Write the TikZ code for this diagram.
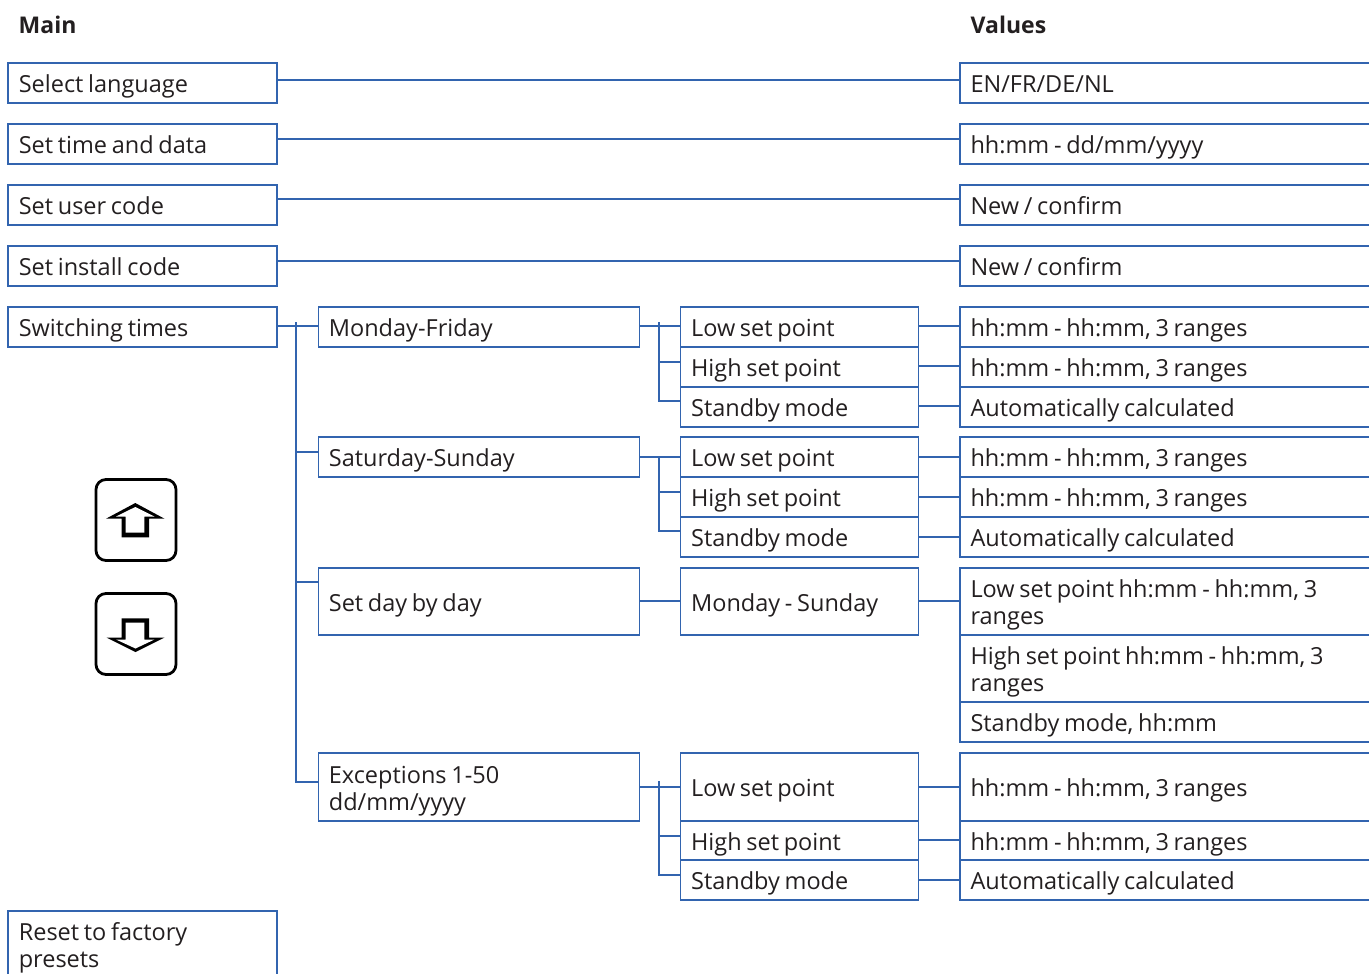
\documentclass[tikz,border=0pt]{standalone}
\usepackage{fontspec}
\setmainfont{Open Sans}
\usepackage{xcolor}
\definecolor{mblue}{RGB}{50,100,175}
\definecolor{mtext}{RGB}{35,31,32}
\newcommand{\boxstart}{\spaceskip=4.7pt\relax\rule{0pt}{24.7pt}}
\tikzset{
  menubox/.style={draw=mblue, line width=1.7pt, rectangle, anchor=north west, outer sep=0pt,
    inner xsep=10.5pt, inner ysep=0pt, align=flush left, text=mtext,
    font=\fontsize{23.5}{27}\selectfont,
    execute at begin node=\boxstart, execute at end node=\rule[-5pt]{0pt}{5pt}},
  mainbox/.style={menubox, text width=248pt, minimum height=#1},
  groupbox/.style={menubox, text width=300pt, minimum height=#1},
  pointbox/.style={menubox, text width=216.8pt, minimum height=#1},
  valuebox/.style={menubox, text width=394pt, minimum height=#1},
  headtext/.style={anchor=west, text=mtext, inner sep=0pt, font=\fontsize{23}{27}\selectfont\bfseries},
  link/.style={draw=mblue, line width=1.7pt},
  keybox/.style={draw=black, line width=2.8pt, rounded corners=10pt, minimum width=80pt, minimum height=81pt, outer sep=0pt, inner sep=0pt}
}
\begin{document}
\begin{tikzpicture}[x=1pt,y=-1pt]
\clip (0,0) rectangle (1369,974);

% Headings
\node[headtext] (mainhead) at (18.5,25) {Main};
\node[headtext] (valhead) at (970.5,25) {Values};

% Main column
\node[mainbox=40pt] (lang) at (8.3,63) {Select language};
\node[mainbox=40pt] (time) at (8.3,124) {Set time and data};
\node[mainbox=40pt] (user) at (8.3,185) {Set user code};
\node[mainbox=40pt] (install) at (8.3,246) {Set install code};
\node[mainbox=40pt] (switch) at (8.3,307) {Switching times};
\node[mainbox=67pt] (reset) at (8.3,911) {Reset to factory\\presets};

% Second column
\node[groupbox=40pt] (monfri) at (318.4,307) {Monday-Friday};
\node[groupbox=40pt] (satsun) at (318.4,437) {Saturday-Sunday};
\node[groupbox=67pt] (daybyday) at (318.4,568) {Set day by day};
\node[groupbox=68pt] (except) at (318.4,753) {Exceptions 1-50\\dd/mm/yyyy};

% Third column
\node[pointbox=40pt] (lowa) at (680.6,307) {Low set point};
\node[pointbox=40pt] (higha) at (680.6,347) {High set point};
\node[pointbox=40pt] (stba) at (680.6,387) {Standby mode};
\node[pointbox=40pt] (lowb) at (680.6,437) {Low set point};
\node[pointbox=40pt] (highb) at (680.6,477) {High set point};
\node[pointbox=40pt] (stbb) at (680.6,517) {Standby mode};
\node[pointbox=67pt] (monsun) at (680.6,568) {Monday - Sunday};
\node[pointbox=68pt] (lowc) at (680.6,753) {Low set point};
\node[pointbox=39pt] (highc) at (680.6,821) {High set point};
\node[pointbox=40pt] (stbc) at (680.6,860) {Standby mode};

% Values column, runs off the right edge
\node[valuebox=40pt] (vlang) at (960,63) {EN/FR/DE/NL};
\node[valuebox=40pt] (vtime) at (960,124) {hh:mm - dd/mm/yyyy};
\node[valuebox=40pt] (vuser) at (960,185) {New / confirm};
\node[valuebox=40pt] (vinstall) at (960,246) {New / confirm};
\node[valuebox=40pt] (vlowa) at (960,307) {hh:mm - hh:mm, 3 ranges};
\node[valuebox=40pt] (vhigha) at (960,347) {hh:mm - hh:mm, 3 ranges};
\node[valuebox=40pt] (vstba) at (960,387) {Automatically calculated};
\node[valuebox=40pt] (vlowb) at (960,437) {hh:mm - hh:mm, 3 ranges};
\node[valuebox=40pt] (vhighb) at (960,477) {hh:mm - hh:mm, 3 ranges};
\node[valuebox=40pt] (vstbb) at (960,517) {Automatically calculated};
\node[valuebox=67pt] (vlowd) at (960,568) {Low set point hh:mm - hh:mm, 3\\ranges};
\node[valuebox=67pt] (vhighd) at (960,635) {High set point hh:mm - hh:mm, 3\\ranges};
\node[valuebox=40pt] (vstbd) at (960,702) {Standby mode, hh:mm};
\node[valuebox=68pt] (vlowc) at (960,753) {hh:mm - hh:mm, 3 ranges};
\node[valuebox=39pt] (vhighc) at (960,821) {hh:mm - hh:mm, 3 ranges};
\node[valuebox=40pt] (vstbc) at (960,860) {Automatically calculated};

% Top rows
\draw[link] ([yshift=3.3pt]lang.east) -- ([yshift=3.3pt]vlang.west);
\draw[link] ([yshift=4.7pt]time.east) -- ([yshift=4.7pt]vtime.west);
\draw[link] ([yshift=6.3pt]user.east) -- ([yshift=6.3pt]vuser.west);
\draw[link] ([yshift=5.3pt]install.east) -- ([yshift=5.3pt]vinstall.west);

% Switching times trunk
\coordinate (trunk) at (295.7,322);
\draw[link] ([yshift=1pt]switch.east) -- ([yshift=1pt]monfri.west);
\draw[link] (trunk) |- ([yshift=4.7pt]except.west);
\draw[link] (trunk |- 0,451.7) -- ([yshift=5.3pt]satsun.west);
\draw[link] (trunk |- 0,581.7) -- ([yshift=19.8pt]daybyday.west);

% Monday-Friday branch
\coordinate (trunka) at (658.7,322);
\draw[link] ([yshift=1pt]monfri.east) -- ([yshift=1pt]lowa.west);
\draw[link] (trunka) |- ([yshift=6pt]stba.west);
\draw[link] (trunka |- 0,362.3) -- ([yshift=4.7pt]higha.west);

% Saturday-Sunday branch
\coordinate (trunkb) at (658.7,456.7);
\draw[link] ([yshift=.3pt]satsun.east) -- ([yshift=.3pt]lowb.west);
\draw[link] (trunkb) |- ([yshift=6.3pt]stbb.west);
\draw[link] (trunkb |- 0,491.7) -- ([yshift=5.3pt]highb.west);

% Exceptions branch
\coordinate (trunkc) at (658.7,781);
\draw[link] ([yshift=.3pt]except.east) -- ([yshift=.3pt]lowc.west);
\draw[link] (trunkc) |- ([yshift=5pt]stbc.west);
\draw[link] (trunkc |- 0,836) -- ([yshift=4.5pt]highc.west);

% Third column to values
\draw[link] ([yshift=1pt]lowa.east) -- ([yshift=1pt]vlowa.west);
\draw[link] ([yshift=1pt]higha.east) -- ([yshift=1pt]vhigha.west);
\draw[link] ([yshift=1pt]stba.east) -- ([yshift=1pt]vstba.west);
\draw[link] ([yshift=.3pt]lowb.east) -- ([yshift=.3pt]vlowb.west);
\draw[link] ([yshift=.3pt]highb.east) -- ([yshift=.3pt]vhighb.west);
\draw[link] ([yshift=.3pt]stbb.east) -- ([yshift=.3pt]vstbb.west);
\draw[link] ([yshift=.2pt]daybyday.east) -- ([yshift=.2pt]monsun.west);
\draw[link] ([yshift=.2pt]monsun.east) -- ([yshift=.2pt]vlowd.west);
\draw[link] ([yshift=.3pt]lowc.east) -- ([yshift=.3pt]vlowc.west);
\draw[link] ([yshift=.5pt]highc.east) -- ([yshift=.5pt]vhighc.west);
\draw[link] (stbc.east) -- (vstbc.west);

% Up and down keys
\node[keybox] (upkey) at (136,520) {};
\node[keybox] (downkey) at (136,634) {};
\fill[black] (135.3,503) -- (106,518.7) -- (121.7,518.7) -- (121.7,537.3) -- (149,537.3) -- (149,518.7) -- (164.5,518.7) -- cycle;
\fill[white] (135.3,507) -- (116,516.5) -- (125.7,516.5) -- (125.7,532.7) -- (144.3,532.7) -- (144.3,516.5) -- (154.5,516.5) -- cycle;
\fill[black] (135.5,652) -- (106.5,637.5) -- (121.7,637.5) -- (121.7,618.3) -- (149,618.3) -- (149,637.5) -- (164.5,637.5) -- cycle;
\fill[white] (135.5,648.5) -- (116,639.5) -- (125.7,639.5) -- (125.7,622.7) -- (144.3,622.7) -- (144.3,639.5) -- (154.5,639.5) -- cycle;
\end{tikzpicture}
\end{document}
